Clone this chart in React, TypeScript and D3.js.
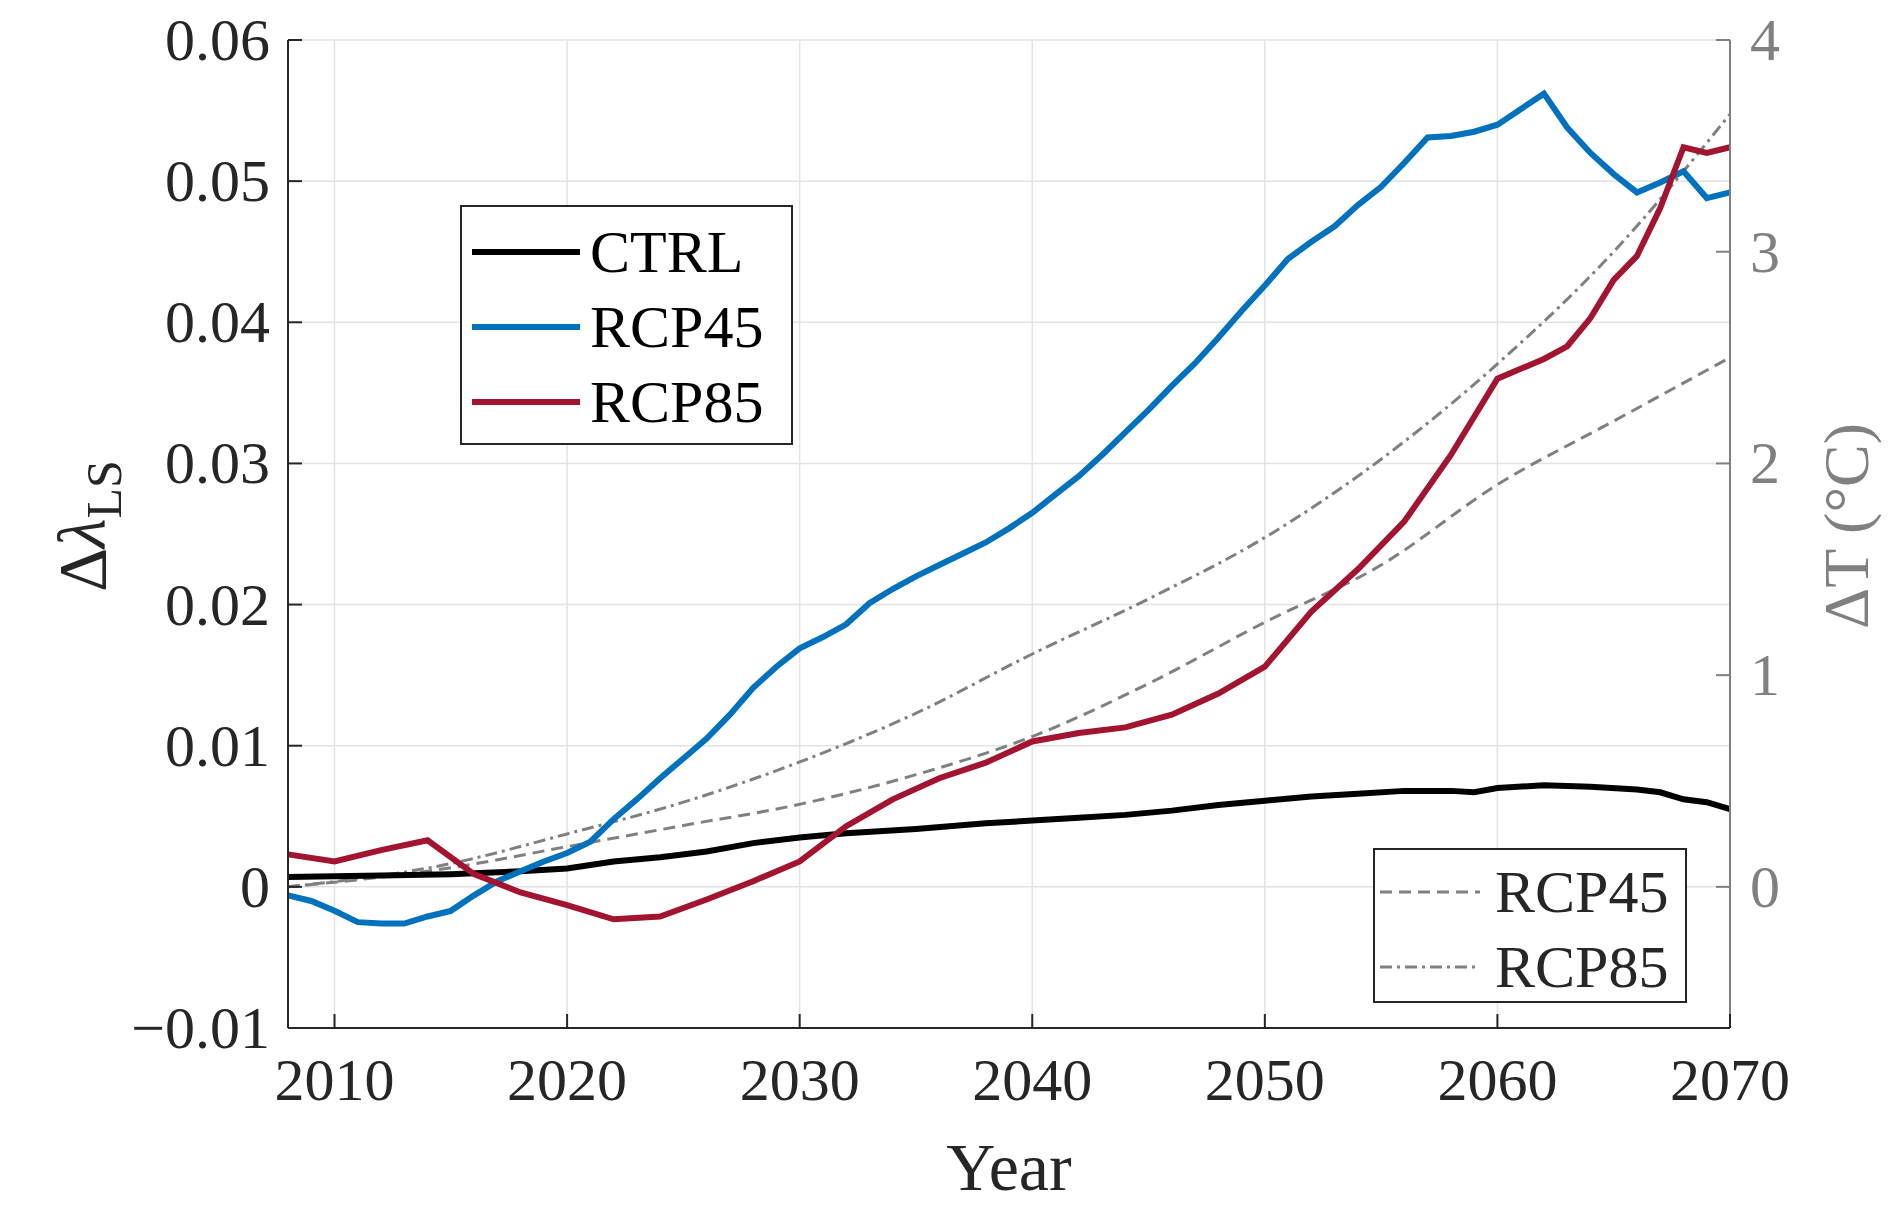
import React from "react";
import * as d3 from "d3";

const years = d3.range(2008, 2071);
const rcp45 = [-0.0006,-0.001,-0.0017,-0.0025,-0.0026,-0.0026,-0.0021,-0.0017,-0.0006,0.0004,0.0011,0.0018,0.0024,0.0032,0.0048,0.0062,0.0077,0.0091,0.0105,0.0122,0.0141,0.0156,0.0169,0.0177,0.0186,0.0201,0.0211,0.022,0.0228,0.0236,0.0244,0.0254,0.0265,0.0278,0.0291,0.0306,0.0322,0.0338,0.0355,0.0371,0.0389,0.0408,0.0426,0.0445,0.0457,0.0468,0.0483,0.0496,0.0513,0.0531,0.0532,0.0535,0.054,0.0551,0.0562,0.0538,0.052,0.0505,0.0492,0.0499,0.0507,0.0488,0.0492];
const rcp85Years = [2008,2010,2012,2014,2016,2018,2020,2022,2024,2026,2028,2030,2032,2034,2036,2038,2040,2042,2044,2046,2048,2050,2052,2054,2056,2058,2060,2062,2063,2064,2065,2066,2067,2068,2069,2070];
const rcp85 = [0.0023,0.0018,0.0026,0.0033,0.0009,-0.0004,-0.0013,-0.0023,-0.0021,-0.0009,0.0004,0.0018,0.0043,0.0062,0.0077,0.0088,0.0103,0.0109,0.0113,0.0122,0.0137,0.0156,0.0195,0.0225,0.0259,0.0306,0.036,0.0374,0.0383,0.0403,0.043,0.0447,0.0481,0.0524,0.052,0.0524];
const ctrlYears = [2008,2012,2015,2018,2020,2022,2024,2026,2028,2030,2032,2035,2038,2040,2042,2044,2046,2048,2050,2052,2054,2056,2058,2059,2060,2062,2064,2066,2067,2068,2069,2070];
const ctrl = [0.0007,0.0008,0.0009,0.0011,0.0013,0.0018,0.0021,0.0025,0.0031,0.0035,0.0038,0.0041,0.0045,0.0047,0.0049,0.0051,0.0054,0.0058,0.0061,0.0064,0.0066,0.0068,0.0068,0.0067,0.007,0.0072,0.0071,0.0069,0.0067,0.0062,0.006,0.0055];
const tYears = [2008,2015,2020,2025,2030,2035,2040,2045,2050,2055,2060,2065,2070];
const t45 = [0,0.09,0.19,0.29,0.39,0.53,0.71,0.96,1.25,1.52,1.9,2.2,2.5];
const t85 = [0,0.11,0.25,0.4,0.59,0.82,1.1,1.36,1.65,2.02,2.47,3.0,3.65];
const xTicks = [2010,2020,2030,2040,2050,2060,2070];
const yTicks = [-0.01,0,0.01,0.02,0.03,0.04,0.05,0.06];
const tTicks = [0,1,2,3,4];

const L = 288, R = 1730, T = 40, B = 1028;
const FONT = "'Liberation Serif', 'Times New Roman', serif";
const GREY = "#808080";

export default function App() {
  const x = d3.scaleLinear().domain([2008, 2070]).range([L, R]);
  const y = d3.scaleLinear().domain([-0.01, 0.06]).range([B, T]);
  const yT = d3.scaleLinear().domain([-0.01 * 400 / 6, 4]).range([B, T]);
  const line = (xs: number[], ys: number[], sc: any, curve = d3.curveLinear) =>
    d3.line<number>().x((_, i) => x(xs[i])).y((v) => sc(v)).curve(curve)(ys) || "";
  const fs = 60;
  return (
    <svg width={1892} height={1208} style={{ position: "absolute", left: 0, top: 0, background: "#fff" }} fontFamily={FONT}>
      <rect x={0} y={0} width={1892} height={1208} fill="#fff" />
      {xTicks.map((t) => <line key={"gx" + t} x1={x(t)} x2={x(t)} y1={T} y2={B} stroke="#e3e3e3" strokeWidth={1.5} />)}
      {yTicks.map((t) => <line key={"gy" + t} x1={L} x2={R} y1={y(t)} y2={y(t)} stroke="#e3e3e3" strokeWidth={1.5} />)}
      <path d={line(tYears, t45, yT, d3.curveMonotoneX)} fill="none" stroke={GREY} strokeWidth={3} strokeDasharray="12,7" />
      <path d={line(tYears, t85, yT, d3.curveMonotoneX)} fill="none" stroke={GREY} strokeWidth={3} strokeDasharray="12,5,3,5" />
      <path d={line(ctrlYears, ctrl, y)} fill="none" stroke="#000" strokeWidth={6} />
      <path d={line(years, rcp45, y)} fill="none" stroke="#0072bd" strokeWidth={6} />
      <path d={line(rcp85Years, rcp85, y)} fill="none" stroke="#a2142f" strokeWidth={6} />
      <line x1={L} x2={L} y1={T} y2={B} stroke="#262626" strokeWidth={2} />
      <line x1={L} x2={R} y1={B} y2={B} stroke="#262626" strokeWidth={2} />
      <line x1={R} x2={R} y1={T} y2={B} stroke={GREY} strokeWidth={2} />
      {xTicks.map((t) => (
        <g key={"xt" + t}>
          <line x1={x(t)} x2={x(t)} y1={B} y2={B - 14} stroke="#262626" strokeWidth={2} />
          <text x={x(t)} y={B + 72} textAnchor="middle" fontSize={fs} fill="#262626">{t}</text>
        </g>
      ))}
      {yTicks.map((t) => (
        <g key={"yt" + t}>
          <line x1={L} x2={L + 14} y1={y(t)} y2={y(t)} stroke="#262626" strokeWidth={2} />
          <text x={L - 18} y={y(t) + 20} textAnchor="end" fontSize={fs} fill="#262626">{t === 0 ? "0" : d3.format(".2f")(t)}</text>
        </g>
      ))}
      {tTicks.map((t) => (
        <g key={"tt" + t}>
          <line x1={R} x2={R - 14} y1={yT(t)} y2={yT(t)} stroke={GREY} strokeWidth={2} />
          <text x={R + 20} y={yT(t) + 20} textAnchor="start" fontSize={fs} fill={GREY}>{t}</text>
        </g>
      ))}
      <text x={(L + R) / 2} y={1190} textAnchor="middle" fontSize={68} fill="#262626">Year</text>
      <text transform={`translate(105,${(T + B) / 2 - 8}) rotate(-90)`} textAnchor="middle" fontSize={68} fill="#262626">
        Δ<tspan fontStyle="italic">λ</tspan><tspan fontSize={50} dy={16}>LS</tspan>
      </text>
      <text transform={`translate(1868,${(T + B) / 2 - 8}) rotate(-90)`} textAnchor="middle" fontSize={64} fill={GREY}>ΔT (°C)</text>
      <g>
        <rect x={461} y={206} width={331} height={238} fill="#fff" stroke="#262626" strokeWidth={2} />
        {[["CTRL", "#000"], ["RCP45", "#0072bd"], ["RCP85", "#a2142f"]].map(([n, c], i) => (
          <g key={n}>
            <line x1={472} x2={580} y1={252 + i * 75} y2={252 + i * 75} stroke={c} strokeWidth={6} />
            <text x={590} y={272 + i * 75} fontSize={fs} fill="#000">{n}</text>
          </g>
        ))}
      </g>
      <g>
        <rect x={1374} y={849} width={312} height={153} fill="#fff" stroke="#262626" strokeWidth={2} />
        {[["RCP45", "12,7"], ["RCP85", "12,5,3,5"]].map(([n, da], i) => (
          <g key={n}>
            <line x1={1380} x2={1480} y1={892 + i * 75} y2={892 + i * 75} stroke={GREY} strokeWidth={3} strokeDasharray={da} />
            <text x={1495} y={912 + i * 75} fontSize={fs} fill="#262626">{n}</text>
          </g>
        ))}
      </g>
    </svg>
  );
}
